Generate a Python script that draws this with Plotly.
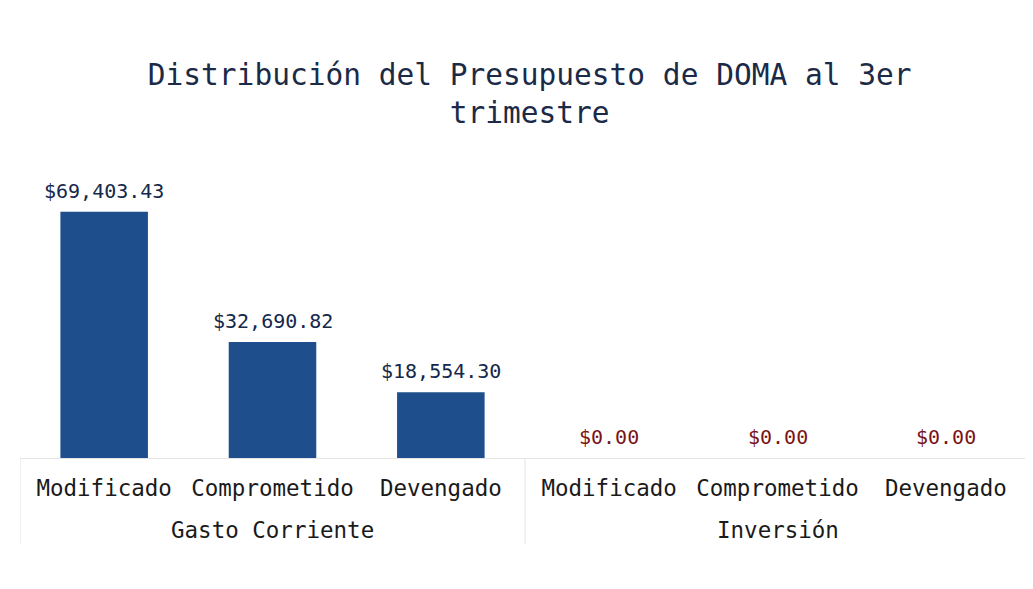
import plotly.graph_objects as go

group_names = ["Gasto Corriente", "Inversión"]
stage_names = ["Modificado", "Comprometido", "Devengado"]
groups = ["Gasto Corriente"] * 3 + ["Inversión"] * 3
stages = ["Modificado", "Comprometido", "Devengado"] * 2
values = [69403.43, 32690.82, 18554.30, 0.0, 0.0, 0.0]
label_colors = ["#14284b"] * 3 + ["#7a1418"] * 3

keys = [f"{g}|{s}" for g, s in zip(groups, stages)]
FONT = "DejaVu Sans Mono"

fig = go.Figure(
    go.Bar(
        x=keys,
        y=values,
        marker=dict(color="#1f4e8c", line=dict(width=0)),
        width=0.52,
        hoverinfo="x+y",
    )
)

# value labels above bars
for k, v, c in zip(keys, values, label_colors):
    fig.add_annotation(
        x=k, y=v, xref="x", yref="y",
        text=f"${v:,.2f}", showarrow=False,
        yanchor="middle", yshift=21,
        font=dict(family=FONT, size=20, color=c),
    )

# group labels and dividers
n_per = len(stage_names)
for gi, g in enumerate(group_names):
    fig.add_annotation(
        x=gi * n_per + (n_per - 1) / 2, y=-0.25, xref="x", yref="paper",
        text=g, showarrow=False, yanchor="middle",
        font=dict(family=FONT, size=22.5, color="#1a1a1a"),
    )
for b in range(len(group_names) + 1):
    fig.add_shape(
        type="line", xref="x", yref="paper",
        x0=b * n_per - 0.5, x1=b * n_per - 0.5, y0=0, y1=-0.30,
        line=dict(color="#e4e4e4", width=1),
    )

fig.update_layout(
    width=1033,
    height=589,
    margin=dict(l=12, r=11, t=162, b=139),
    paper_bgcolor="white",
    plot_bgcolor="white",
    showlegend=False,
    title=dict(
        text="Distribución del Presupuesto de DOMA al 3er<br>trimestre",
        x=0.505,
        xanchor="center",
        y=0.87,
        yanchor="top",
        font=dict(family=FONT, size=29.5, color="#1b2a47"),
    ),
    font=dict(family=FONT, color="#1a1a1a"),
)

fig.update_xaxes(
    type="category",
    categoryorder="array",
    categoryarray=keys,
    tickmode="array",
    tickvals=keys,
    ticktext=stages,
    showline=True,
    linecolor="#e4e4e4",
    linewidth=1,
    ticks="",
    ticklabelstandoff=10,
    tickfont=dict(family=FONT, size=22.5, color="#1a1a1a"),
    showgrid=False,
    automargin=False,
    range=[-0.5, len(keys) - 0.5],
)
fig.update_yaxes(
    range=[0, 81200],
    visible=False,
    showgrid=False,
    zeroline=False,
    automargin=False,
)

fig.write_html("out.html")
